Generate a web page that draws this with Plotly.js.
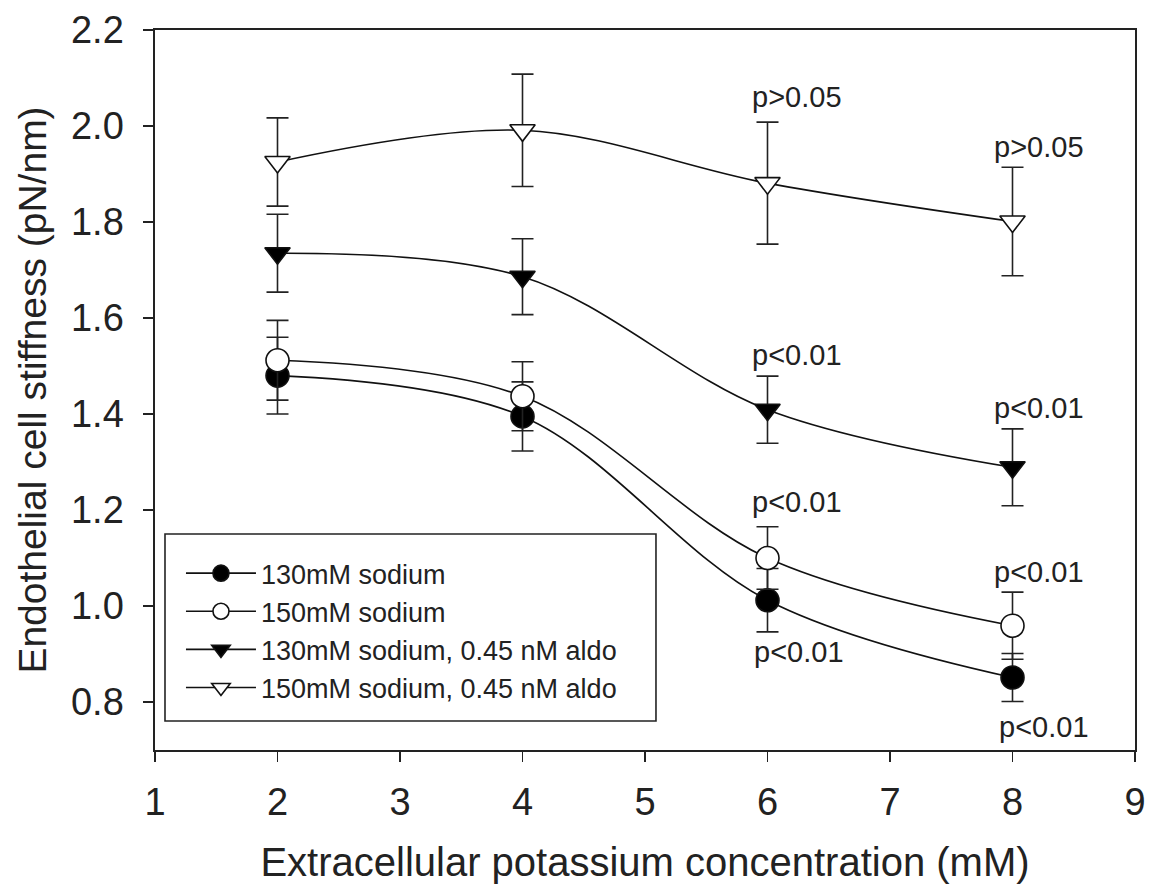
<!DOCTYPE html>
<html>
<head>
<meta charset="utf-8">
<script src="https://cdn.plot.ly/plotly-3.0.1.min.js"></script>
<style>
html, body { margin: 0; padding: 0; background: #fff; }
#chart { width: 1163px; height: 896px; }
</style>
</head>
<body>
<div id="chart"></div>
<script>
// Extracellular potassium concentration (mM)
const potassium = [2, 4, 6, 8];

// Endothelial cell stiffness (pN/nm), mean and error
const na130 = [1.48, 1.395, 1.012, 0.851];
const na130Err = [0.08, 0.072, 0.066, 0.05];
const na150 = [1.512, 1.437, 1.100, 0.959];
const na150Err = [0.083, 0.072, 0.065, 0.07];
const na130Aldo = [1.735, 1.686, 1.409, 1.289];
const na130AldoErr = [0.081, 0.079, 0.07, 0.08];
const na150Aldo = [1.925, 1.991, 1.881, 1.801];
const na150AldoErr = [0.092, 0.117, 0.127, 0.113];

const seriesNames = [
  "130mM sodium",
  "150mM sodium",
  "130mM sodium, 0.45 nM aldo",
  "150mM sodium, 0.45 nM aldo"
];

// p-value labels (text, x, y in data units)
const pText = ["p>0.05", "p>0.05", "p<0.01", "p<0.01", "p<0.01", "p<0.01", "p<0.01", "p<0.01"];
const pX = [6.24, 8.22, 6.24, 8.22, 6.24, 8.22, 6.26, 8.26];
const pY = [2.06, 1.956, 1.523, 1.413, 1.216, 1.07, 0.904, 0.748];

const xTicks = [1, 2, 3, 4, 5, 6, 7, 8, 9];
const yTicks = [0.8, 1.0, 1.2, 1.4, 1.6, 1.8, 2.0, 2.2];

const FONT = "Liberation Sans, Arial, sans-serif";

function series(name, y, err, symbol, fill) {
  return {
    type: "scatter",
    mode: "lines+markers",
    name: name,
    x: potassium,
    y: y,
    line: { color: "#111", width: 1.6, shape: "spline", smoothing: 1 },
    marker: {
      symbol: symbol,
      size: symbol.indexOf("triangle") === 0 ? 22 : 23,
      color: fill,
      line: { color: "#111", width: 1.6 }
    },
    error_y: {
      type: "data",
      array: err,
      visible: true,
      color: "#222",
      thickness: 1.6,
      width: 11
    },
    cliponaxis: false
  };
}

const traces = [
  series(seriesNames[0], na130, na130Err, "circle", "#000"),
  series(seriesNames[1], na150, na150Err, "circle", "#fff"),
  series(seriesNames[2], na130Aldo, na130AldoErr, "triangle-down", "#000"),
  series(seriesNames[3], na150Aldo, na150AldoErr, "triangle-down", "#fff")
];

const annotations = pText.map((t, i) => ({
  text: t,
  x: pX[i],
  y: pY[i],
  xref: "x",
  yref: "y",
  showarrow: false,
  font: { family: FONT, size: 29, color: "#222" }
}));

const layout = {
  width: 1163,
  height: 896,
  paper_bgcolor: "#fff",
  plot_bgcolor: "#fff",
  margin: { l: 155, r: 28, t: 30, b: 146 },
  showlegend: true,
  font: { family: FONT, color: "#222" },
  xaxis: {
    range: [1, 9],
    tickvals: xTicks,
    ticktext: xTicks.map(String),
    ticks: "outside",
    ticklen: 10,
    tickwidth: 1.6,
    tickcolor: "#222",
    ticklabelstandoff: 8,
    showline: true,
    linecolor: "#222",
    linewidth: 1.6,
    mirror: true,
    showgrid: false,
    zeroline: false,
    tickfont: { family: FONT, size: 38, color: "#222" },
    title: {
      text: "Extracellular potassium concentration (mM)",
      font: { family: FONT, size: 40, color: "#222" },
      standoff: 26
    }
  },
  yaxis: {
    range: [0.7, 2.2],
    tickvals: yTicks,
    ticktext: yTicks.map(v => v.toFixed(1)),
    ticks: "outside",
    ticklen: 10,
    tickwidth: 1.6,
    tickcolor: "#222",
    ticklabelstandoff: 12,
    showline: true,
    linecolor: "#222",
    linewidth: 1.6,
    mirror: true,
    showgrid: false,
    zeroline: false,
    tickfont: { family: FONT, size: 38, color: "#222" },
    title: {
      text: "Endothelial cell stiffness (pN/nm)",
      font: { family: FONT, size: 39, color: "#222" },
      standoff: 12
    }
  },
  legend: {
    x: 0.0265,
    y: 0.279,
    xanchor: "left",
    yanchor: "top",
    bgcolor: "rgba(0,0,0,0)",
    borderwidth: 0,
    font: { family: FONT, size: 27, color: "#222" },
    itemwidth: 70,
    tracegroupgap: 0
  },
  shapes: [{
    type: "rect",
    xref: "paper",
    yref: "paper",
    x0: 0.0102,
    x1: 0.5112,
    y0: 0.0403,
    y1: 0.3,
    line: { color: "#222", width: 1.6 },
    fillcolor: "#fff",
    layer: "above"
  }],
  annotations: annotations
};

Plotly.newPlot("chart", traces, layout, { staticPlot: true, displayModeBar: false });
</script>
</body>
</html>
